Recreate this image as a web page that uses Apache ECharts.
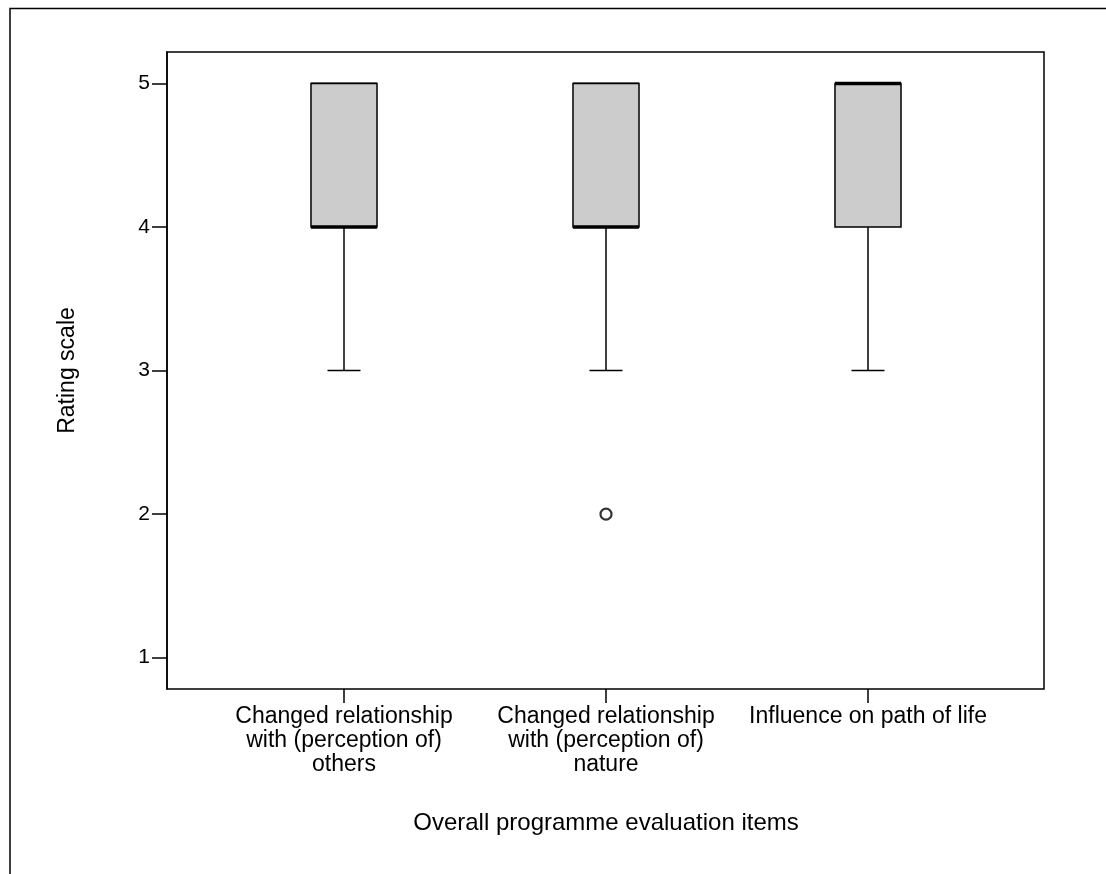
<!DOCTYPE html>
<html>
<head>
<meta charset="utf-8">
<script src="https://cdn.jsdelivr.net/npm/echarts@6/dist/echarts.min.js"></script>
<style>
html,body{margin:0;padding:0;background:#fff;}
#chart{width:1106px;height:874px;}
</style>
</head>
<body>
<div id="chart"></div>
<script>
// ---- data ----
const categories = [
  'Changed relationship\nwith (perception of)\nothers',
  'Changed relationship\nwith (perception of)\nnature',
  'Influence on path of life'
];
const whiskerLow = [3, 3, 3];
const quartile1 = [4, 4, 4];
const medians = [4, 4, 5];
const quartile3 = [5, 5, 5];
const whiskerHigh = [5, 5, 5];
const outliers = [[1, 2]]; // [category index, value]
const yTicks = [1, 2, 3, 4, 5];
const xTitle = 'Overall programme evaluation items';
const yTitle = 'Rating scale';

const boxData = categories.map((c, i) => [i, whiskerLow[i], quartile1[i], medians[i], quartile3[i], whiskerHigh[i]]);

const FONT = '"Liberation Sans", Arial, Helvetica, sans-serif';
const chart = echarts.init(document.getElementById('chart'), null, {renderer: 'canvas'});

function renderBox(params, api) {
  const idx = api.value(0);
  const lo = api.coord([idx, api.value(1)]);
  const q1 = api.coord([idx, api.value(2)]);
  const md = api.coord([idx, api.value(3)]);
  const q3 = api.coord([idx, api.value(4)]);
  const hi = api.coord([idx, api.value(5)]);
  const band = api.size([1, 0])[0];
  const half = band * 0.126;
  const capHalf = band * 0.063;
  const cx = lo[0];
  const ls = {stroke: '#000', lineWidth: 1.5};
  return {
    type: 'group',
    children: [
      {type: 'line', shape: {x1: cx, y1: lo[1], x2: cx, y2: q1[1]}, style: ls},
      {type: 'line', shape: {x1: cx, y1: q3[1], x2: cx, y2: hi[1]}, style: ls},
      {type: 'line', shape: {x1: cx - capHalf, y1: lo[1], x2: cx + capHalf, y2: lo[1]}, style: ls},
      {type: 'line', shape: {x1: cx - half, y1: hi[1], x2: cx + half, y2: hi[1]}, style: {stroke: '#000', lineWidth: 2}},
      {type: 'rect', shape: {x: cx - half, y: q3[1], width: half * 2, height: q1[1] - q3[1]},
        style: {fill: '#cccccc', stroke: '#000', lineWidth: 1.5}},
      {type: 'line', shape: {x1: cx - half, y1: md[1], x2: cx + half, y2: md[1]},
        style: {stroke: '#000', lineWidth: 3.5}}
    ]
  };
}

const option = {
  backgroundColor: '#fff',
  animation: false,
  textStyle: {fontFamily: FONT},
  graphic: [{
    type: 'polyline',
    shape: {points: [[10, 874], [10, 8.5], [1106, 8.5]]},
    style: {stroke: '#000', lineWidth: 1.5, fill: null}
  }],
  grid: [
    {left: 167, top: 52, width: 877, height: 637, show: true, borderColor: '#000', borderWidth: 1.5, backgroundColor: 'transparent'},
    {left: 213, top: 52, width: 786, height: 637}
  ],
  xAxis: [
    {gridIndex: 0, type: 'value', show: false, min: 0, max: 1},
    {
      gridIndex: 1, type: 'category', data: categories,
      axisLine: {show: false},
      axisTick: {show: true, alignWithLabel: true, length: 14, lineStyle: {color: '#000', width: 1.5}},
      axisLabel: {color: '#000', fontSize: 23, lineHeight: 24, margin: 16, fontFamily: FONT, interval: 0},
      name: xTitle, nameLocation: 'middle', nameGap: 122,
      nameTextStyle: {color: '#000', fontSize: 24, fontFamily: FONT},
      splitLine: {show: false}
    }
  ],
  yAxis: [
    {gridIndex: 0, type: 'value', show: false, min: 0, max: 1},
    {
      gridIndex: 1, type: 'value', min: 0.782, max: 5.219, offset: 46,
      axisLine: {show: true, lineStyle: {color: '#000', width: 1.5}},
      axisTick: {show: true, length: 15, customValues: yTicks, lineStyle: {color: '#000', width: 1.5}},
      axisLabel: {color: '#000', fontSize: 21, margin: 17, customValues: yTicks, fontFamily: FONT},
      splitLine: {show: false},
      name: yTitle, nameLocation: 'middle', nameGap: 88,
      nameTextStyle: {color: '#000', fontSize: 23, fontFamily: FONT}
    }
  ],
  series: [
    {
      type: 'custom', xAxisIndex: 1, yAxisIndex: 1,
      data: boxData, renderItem: renderBox,
      encode: {x: 0, y: [1, 2, 3, 4, 5]}
    },
    {
      type: 'scatter', xAxisIndex: 1, yAxisIndex: 1,
      data: outliers, symbol: 'circle', symbolSize: 11,
      itemStyle: {color: '#fff', borderColor: '#000', borderWidth: 2.2}
    }
  ]
};
chart.setOption(option);
</script>
</body>
</html>
